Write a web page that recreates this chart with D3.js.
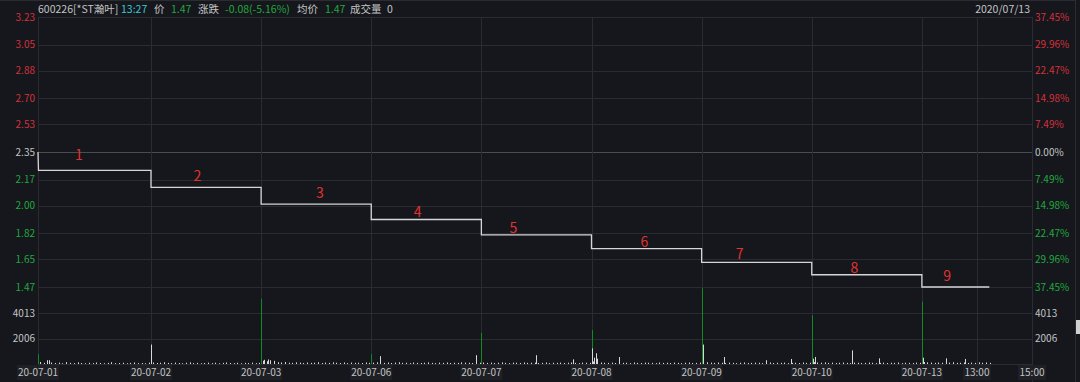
<!DOCTYPE html>
<html lang="zh">
<head>
  <meta charset="utf-8"/>
  <title>600226 分时</title>
  <style>
    html, body { margin: 0; padding: 0; background: #15171c; overflow: hidden; }
    svg text { font-family: "Noto Sans CJK SC", "Noto Sans", sans-serif; }
  </style>
</head>
<body>
<svg id="chart" width="1080" height="382"></svg>

<script src="https://cdn.jsdelivr.net/npm/d3@7"></script>
<script>

  // ---- data ----
  const dayLabels = ['20-07-01', '20-07-02', '20-07-03', '20-07-06', '20-07-07',
                     '20-07-08', '20-07-09', '20-07-10', '20-07-13'];
  const prevClose = 2.35;
  const dayPrices = [2.23, 2.12, 2.01, 1.91, 1.81, 1.72, 1.63, 1.55, 1.47];
  const lastMinute = 147;            // 13:27 on the last day
  const priceTicks = [3.23, 3.05, 2.88, 2.70, 2.53, 2.35, 2.17, 2.00, 1.82, 1.65, 1.47];
  const pctTicks = ['37.45%', '29.96%', '22.47%', '14.98%', '7.49%', '0.00%',
                    '7.49%', '14.98%', '22.47%', '29.96%', '37.45%'];
  const volTicks = [2006, 4013];
  const volMax = 6019;

  // [day, minute, volume, colour] notable volume bars
  const volSpikes = [
    [0, 0, 770, 'g'], [0, 24, 300, 'w'],
    [1, 0, 1540, 'w'],
    [2, 0, 5170, 'g'], [2, 6, 330, 'w'], [2, 14, 360, 'w'], [2, 20, 300, 'w'],
    [3, 0, 770, 'g'], [3, 19, 620, 'w'], [3, 228, 700, 'w'],
    [4, 0, 2470, 'g'], [4, 120, 700, 'w'], [4, 200, 370, 'w'],
    [5, 0, 2700, 'g'], [5, 0, 1230, 'w'], [5, 5, 500, 'w'], [5, 9, 850, 'w'],
    [5, 13, 420, 'w'], [5, 59, 550, 'w'],
    [6, 0, 6000, 'g'], [6, 2, 1540, 'w'], [6, 48, 550, 'w'], [6, 140, 300, 'w'], [6, 195, 400, 'w'],
    [7, 0, 3860, 'g'], [7, 2, 420, 'w'], [7, 8, 560, 'w'], [7, 87, 1080, 'w'], [7, 146, 450, 'w'],
    [8, 0, 4940, 'g'], [8, 3, 500, 'w'], [8, 52, 450, 'w'], [8, 93, 400, 'w']
  ];

  // small bars, one every 8 minutes starting at minute 4
  const volSmall = [
    [160, 90, 300, 120, 80, 110, 60, 150, 90, 70, 130, 80, 60, 100, 70, 120, 80, 60, 90, 140, 70, 80, 100, 60, 90, 120, 70, 80, 60, 110],
    [120, 80, 100, 140, 90, 70, 110, 80, 60, 100, 130, 70, 90, 60, 80, 110, 70, 100, 60, 90, 120, 80, 70, 100, 60, 90, 80, 110, 70, 90],
    [260, 220, 180, 250, 140, 120, 160, 100, 90, 130, 110, 80, 120, 90, 100, 140, 80, 110, 90, 130, 100, 80, 120, 70, 110, 90, 100, 80, 120, 90],
    [110, 130, 100, 90, 120, 80, 110, 140, 90, 100, 70, 120, 90, 80, 100, 130, 90, 70, 110, 90, 120, 80, 100, 90, 130, 110, 100, 80, 90, 100],
    [120, 90, 110, 80, 100, 130, 90, 70, 110, 100, 80, 120, 90, 100, 110, 80, 90, 120, 70, 100, 90, 110, 80, 100, 120, 90, 70, 110, 100, 90],
    [200, 160, 120, 100, 90, 110, 80, 130, 90, 100, 70, 120, 90, 80, 110, 100, 90, 70, 120, 90, 100, 80, 110, 90, 70, 100, 120, 80, 90, 110],
    [180, 140, 110, 90, 120, 100, 80, 110, 90, 70, 100, 120, 80, 90, 110, 100, 70, 90, 120, 80, 100, 90, 110, 70, 90, 100, 80, 120, 90, 100],
    [150, 120, 100, 130, 90, 110, 80, 100, 120, 90, 70, 110, 100, 80, 90, 120, 100, 70, 90, 110, 80, 100, 90, 120, 70, 100, 90, 80, 110, 90],
    [160, 130, 110, 90, 120, 100, 80, 110, 140, 90, 100, 120, 80, 110, 90, 130, 100, 120, 90]
  ];

  // red numbered notes: [label, minute from first open, price level]
  const marks = [
    ['1', 87, 2.33], ['2', 341, 2.19], ['3', 608, 2.08], ['4', 821, 1.96], ['5', 1030, 1.855],
    ['6', 1315, 1.763], ['7', 1523, 1.685], ['8', 1773, 1.594], ['9', 1975, 1.542]
  ];

  const headerItems = [
    ['600226[*ST瀚叶]', 38, 'grey'], ['13:27', 121, 'cyan'], ['价', 154, 'grey'],
    ['1.47', 171, 'green'], ['涨跌', 198, 'grey'], ['-0.08(-5.16%)', 225, 'green'],
    ['均价', 297, 'grey'], ['1.47', 325, 'green'], ['成交量', 350, 'grey'], ['0', 387, 'grey']
  ];
  const headerDate = '2020/07/13';

  // ---- style ----
  const colors = {
    bg: '#15171c', grid: '#2a2c31', zero: '#4a4c51', line: '#d6d6d6',
    grey: '#c4c4c4', cyan: '#3cc6d4', green: '#22a83f', red: '#d4303a',
    mark: '#e0332f', volUp: '#d8d8d8', volDown: '#128a22'
  };
  const dayLen = 240;
  const plotLeft = 38, plotRight = 1032, plotTop = 17;
  const priceBottom = 287, volTop = 288, volBottom = 364;

  const svg = d3.select('#chart');
  svg.append('rect').attr('width', 1080).attr('height', 382).attr('fill', colors.bg);

  const x = d3.scaleLinear()
    .domain([0, dayLen, dayLen * dayLabels.length])
    .range([plotLeft, 151, plotRight]);
  const y = d3.scaleLinear()
    .domain([priceTicks[priceTicks.length - 1], priceTicks[0]])
    .range([priceBottom, plotTop]);
  const yVol = d3.scaleLinear().domain([0, volMax]).range([volBottom, volTop]);

  const tickColor = v => v > prevClose ? colors.red : (v < prevClose ? colors.green : colors.grey);

  // ---- grid ----
  const grid = svg.append('g');
  grid.selectAll('line.h')
    .data(priceTicks)
    .enter().append('line')
    .attr('x1', plotLeft).attr('x2', plotRight)
    .attr('y1', d => Math.round(y(d)) + 0.5).attr('y2', d => Math.round(y(d)) + 0.5)
    .attr('stroke', d => d === prevClose ? colors.zero : colors.grid);
  grid.selectAll('line.v')
    .data(volTicks.concat([0]))
    .enter().append('line')
    .attr('x1', plotLeft).attr('x2', plotRight)
    .attr('y1', d => Math.round(yVol(d)) + 0.5).attr('y2', d => Math.round(yVol(d)) + 0.5)
    .attr('stroke', colors.grid);

  const vLines = dayLabels.map((d, i) => i * dayLen).concat([dayLen * 8 + 120]);
  grid.selectAll('line.d')
    .data(vLines)
    .enter().append('line')
    .attr('x1', d => Math.round(x(d)) + 0.5).attr('x2', d => Math.round(x(d)) + 0.5)
    .attr('y1', plotTop).attr('y2', volBottom)
    .attr('stroke', colors.grid);
  grid.append('line')
    .attr('x1', plotRight + 0.5).attr('x2', plotRight + 0.5).attr('y1', plotTop).attr('y2', 382)
    .attr('stroke', colors.grid);
  grid.append('line')
    .attr('x1', 0).attr('x2', 1075).attr('y1', 0.5).attr('y2', 0.5)
    .attr('stroke', colors.grid);
  grid.append('line')
    .attr('x1', 1075.5).attr('x2', 1075.5).attr('y1', 0).attr('y2', 382)
    .attr('stroke', colors.grid);
  svg.append('rect').attr('x', 1076).attr('y', 320).attr('width', 4).attr('height', 14)
    .attr('fill', '#d0d0d0');

  // ---- axis labels ----
  const labels = svg.append('g').attr('font-size', 10);
  labels.selectAll('text.l')
    .data(priceTicks)
    .enter().append('text')
    .attr('x', 35).attr('y', d => y(d)).attr('dy', '0.35em')
    .attr('text-anchor', 'end')
    .attr('fill', tickColor)
    .text(d => d3.format('.2f')(d));
  labels.selectAll('text.r')
    .data(pctTicks)
    .enter().append('text')
    .attr('x', plotRight + 3).attr('y', (d, i) => y(priceTicks[i])).attr('dy', '0.35em')
    .attr('fill', (d, i) => tickColor(priceTicks[i]))
    .text(d => d);
  labels.selectAll('text.vl')
    .data(volTicks)
    .enter().append('text')
    .attr('x', 35).attr('y', d => yVol(d)).attr('dy', '0.35em')
    .attr('text-anchor', 'end').attr('fill', colors.grey)
    .text(d => d);
  labels.selectAll('text.vr')
    .data(volTicks)
    .enter().append('text')
    .attr('x', plotRight + 3).attr('y', d => yVol(d)).attr('dy', '0.35em')
    .attr('fill', colors.grey)
    .text(d => d);

  const xLabels = dayLabels.map((d, i) => [d, i * dayLen])
    .concat([['13:00', dayLen * 8 + 120], ['15:00', dayLen * 9]]);
  const xl = labels.selectAll('g.xl')
    .data(xLabels)
    .enter().append('g')
    .attr('transform', d => `translate(${x(d[1])},372)`);
  xl.append('rect')
    .attr('x', d => d[0].length > 5 ? -21 : -14).attr('y', -7)
    .attr('width', d => d[0].length > 5 ? 42 : 28).attr('height', 15)
    .attr('fill', '#1e2025');
  xl.append('text')
    .attr('text-anchor', 'middle').attr('dy', '0.35em')
    .attr('fill', colors.grey)
    .text(d => d[0]);

  // ---- header ----
  const header = svg.append('g').attr('font-size', 10.5);
  header.selectAll('text')
    .data(headerItems)
    .enter().append('text')
    .attr('x', d => d[1]).attr('y', 13)
    .attr('fill', d => colors[d[2]])
    .text(d => d[0]);
  header.append('text')
    .attr('x', 1030).attr('y', 13).attr('text-anchor', 'end')
    .attr('fill', colors.grey)
    .text(headerDate);

  // ---- volume ----
  const vol = svg.append('g');
  const smallBars = [];
  volSmall.forEach((arr, day) => arr.forEach((v, k) => smallBars.push([day, 4 + k * 8, v, 'w'])));
  vol.selectAll('rect.s')
    .data(smallBars.concat(volSpikes))
    .enter().append('rect')
    .attr('x', d => Math.round(x(d[0] * dayLen + d[1])))
    .attr('y', d => yVol(d[2]))
    .attr('width', 1)
    .attr('height', d => volBottom - yVol(d[2]))
    .attr('fill', d => d[3] === 'g' ? colors.volDown : colors.volUp);

  // ---- price line (step per day) ----
  const pts = [[0, prevClose], [1, dayPrices[0]]];
  dayPrices.forEach((p, i) => {
    const end = i === dayPrices.length - 1 ? i * dayLen + lastMinute : (i + 1) * dayLen;
    pts.push([i * dayLen + (i === 0 ? 1 : 0), p]);
    pts.push([end, p]);
  });
  svg.append('path')
    .datum(pts)
    .attr('fill', 'none')
    .attr('stroke', colors.line)
    .attr('stroke-width', 1.3)
    .attr('d', d3.line().x(d => x(d[0])).y(d => y(d[1])));

  // ---- numbered notes ----
  svg.append('g').selectAll('text')
    .data(marks)
    .enter().append('text')
    .attr('x', d => x(d[1])).attr('y', d => y(d[2])).attr('dy', '0.35em')
    .attr('text-anchor', 'middle')
    .attr('font-size', 14)
    .attr('fill', colors.mark)
    .text(d => d[0]);

</script>
</body>
</html>
